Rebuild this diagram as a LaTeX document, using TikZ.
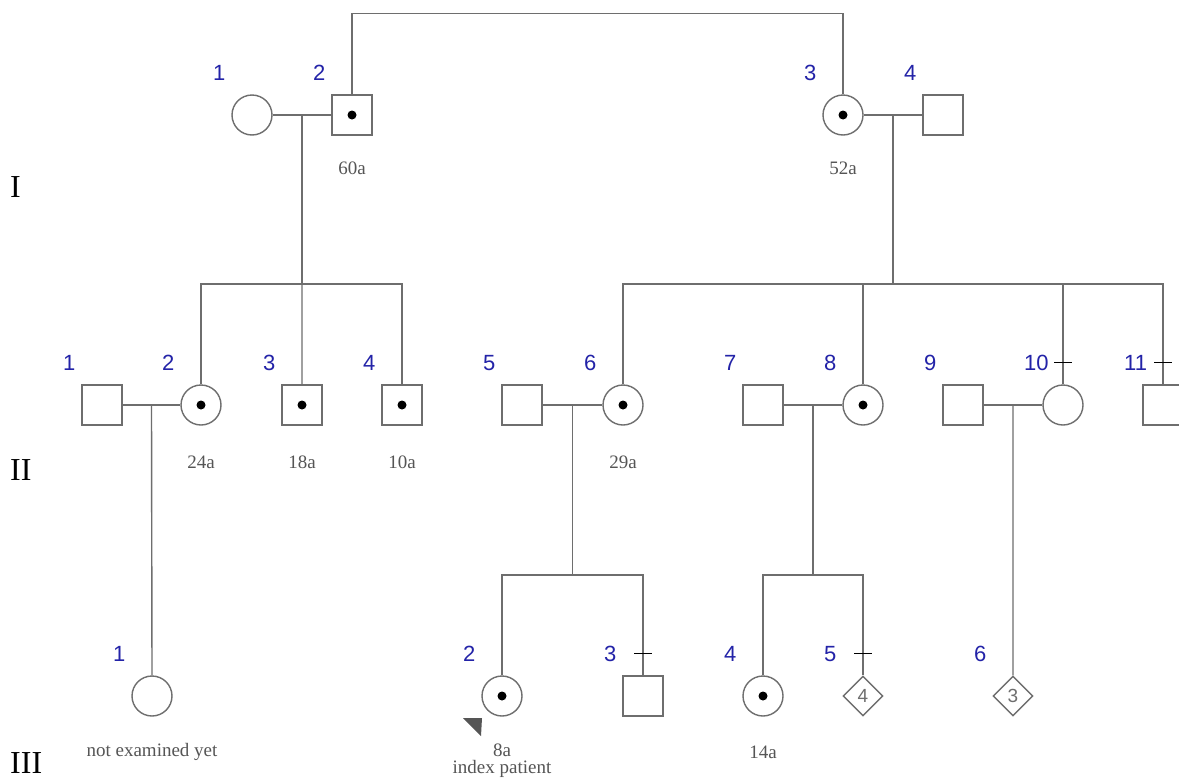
\documentclass[tikz,border=0pt]{standalone}
\usepackage{fontspec}
\setmainfont{Liberation Serif}
\newfontfamily\numfont{Liberation Sans}
\usetikzlibrary{shapes.geometric, calc}
\definecolor{lcol}{HTML}{6E6E6E}
\definecolor{ncol}{HTML}{2323A8}
\definecolor{acol}{HTML}{555555}

\begin{document}
\begin{tikzpicture}[x=1pt,y=-1pt,
  line/.style={draw=lcol,line width=1.4pt},
  male/.style={line,rectangle,minimum size=40pt,inner sep=0pt,fill=white},
  female/.style={line,circle,minimum size=40pt,inner sep=0pt,fill=white},
  unknown/.style={line,diamond,minimum width=40pt,minimum height=40pt,inner sep=0pt,fill=white,text=lcol,font=\numfont\fontsize{19}{19}\selectfont},
  carrier/.style={path picture={\fill[black] (path picture bounding box.center) circle (4.5pt);}},
  num/.style={anchor=west,inner sep=0pt,text=ncol,font=\numfont\fontsize{22}{22}\selectfont},
  age/.style={inner sep=0pt,text=acol,align=center,font=\fontsize{19}{17}\selectfont},
  gen/.style={anchor=west,inner sep=0pt,font=\fontsize{32}{32}\selectfont}]
\useasboundingbox[fill=white] (0,0) rectangle (1179,782);
\clip (0,0) rectangle (1179,782);
% generation I
\node[female] (I1) at (252,115) {};
\node[male,carrier] (I2) at (352,115) {};
\node[female,carrier] (I3) at (843,115) {};
\node[male] (I4) at (943,115) {};
% generation II
\node[male] (II1) at (102,405) {};
\node[female,carrier] (II2) at (201,405) {};
\node[male,carrier] (II3) at (302,405) {};
\node[male,carrier] (II4) at (402,405) {};
\node[male] (II5) at (522,405) {};
\node[female,carrier] (II6) at (623,405) {};
\node[male] (II7) at (763,405) {};
\node[female,carrier] (II8) at (863,405) {};
\node[male] (II9) at (963,405) {};
\node[female] (II10) at (1063,405) {};
\node[male] (II11) at (1163,405) {};
% generation III
\node[female] (III1) at (152,696) {};
\node[female,carrier] (III2) at (502,696) {};
\node[male] (III3) at (643,696) {};
\node[female,carrier] (III4) at (763,696) {};
\node[unknown] (III5) at (863,696) {4};
\node[unknown] (III6) at (1013,696) {3};
% marriages
\foreach \a/\b/\m in {I1/I2/m1, I3/I4/m2, II1/II2/m3, II5/II6/m4, II7/II8/m5, II9/II10/m6} {
  \draw[line] (\a) -- (\b);
  \coordinate (\m) at ($(\a.east)!0.5!(\b.west)$);
}
\coordinate (s1) at ($(m1)+(0,169)$);
\coordinate (s2) at ($(m2)+(0,169)$);
\coordinate (s4) at ($(m4)+(0,170)$);
\coordinate (s5) at ($(m5)+(0,170)$);
% link between the two families
\draw[line] (I2.north) -- ++(0,-81) -| (I3.north);
% children of I
\draw[line] (m1) -- (s1);
\draw[line] (II2.north) |- (s1) -| (II4.north);
\draw[line] (s1) -- (II3.north);
\draw[line] (m2) -- (s2);
\draw[line] (II6.north) |- (s2) -| (II11.north);
\draw[line] (II8.north) -- (II8.north |- s2);
\draw[line] (II10.north) -- (II10.north |- s2);
% children of II
\draw[line] (m3) -- (III1.north);
\draw[line] (m4) -- (s4);
\draw[line] (III2.north) |- (s4) -| (III3.north);
\draw[line] (m5) -- (s5);
\draw[line] (III4.north) |- (s5) -| (III5.north);
\draw[line] (m6) -- (III6.north);
% ticks
\foreach \p in {II10,II11,III3,III5}
  \draw[line,draw=black,line width=1.6pt] ($(\p.north)+(-9,-22)$) -- ++(18,0);
% index patient
\fill[acol] ($(III2)+(-39,22)$) -- ++(19,0) -- ++(-1,18) -- cycle;
% numbers
\foreach \p/\t in {I1/1, I2/2, I3/3, I4/4, II1/1, II2/2, II3/3, II4/4, II5/5, II6/6,
  II7/7, II8/8, II9/9, II10/10, II11/11, III1/1, III2/2, III3/3, III4/4, III5/5, III6/6}
  \node[num] (\p-n) at ($(\p)+(-39,-42)$) {\t};
% ages
\foreach \p/\t in {I2/60a, I3/52a}
  \node[age] (\p-a) at ($(\p)+(0,53)$) {\t};
\foreach \p/\t in {II2/24a, II3/18a, II4/10a, II6/29a}
  \node[age] (\p-a) at ($(\p)+(0,57)$) {\t};
\foreach \p/\t in {III1/not examined yet, III4/14a}
  \node[age] (\p-a) at ($(\p)+(0,56)$) {\t};
\node[age] (III2-a) at ($(III2)+(0,65)$) {8a\\index patient};
% generations
\node[gen] (genI) at (10,187) {I};
\node[gen] (genII) at (10,470) {II};
\node[gen] (genIII) at (10,763) {III};
\end{tikzpicture}
\end{document}
